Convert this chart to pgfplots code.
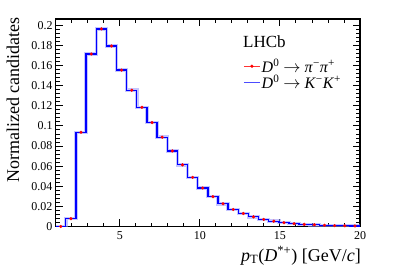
\documentclass[border=0pt]{standalone}
\usepackage{pgfplots}
\pgfplotsset{compat=1.18}
\usepackage{fontspec}
\setmainfont{Liberation Serif}
\definecolor{band}{RGB}{150,150,255}
\pgfplotstableread{
x y
1.0000 0
1.6333 0.0078
2.2667 0.0937
2.9000 0.1715
3.5333 0.1965
4.1667 0.1795
4.8000 0.1555
5.4333 0.1355
6.0667 0.1185
6.7000 0.1033
7.3333 0.0888
7.9667 0.0751
8.6000 0.0613
9.2333 0.0488
9.8667 0.0383
10.5000 0.0296
11.1333 0.0226
11.7667 0.0169
12.4000 0.0129
13.0333 0.0096
13.6667 0.0070
14.3000 0.0053
14.9333 0.0038
15.5667 0.0028
16.2000 0.0021
16.8333 0.0017
17.4667 0.0012
18.1000 0.0009
18.7333 0.0007
19.3667 0.0005
20.0000 0.0005
}\histo
\pgfplotstableread{
x y
1.3167 0
1.9500 0.0078
2.5833 0.0937
3.2167 0.1715
3.8500 0.1965
4.4833 0.1795
5.1167 0.1555
5.7500 0.1355
6.3833 0.1185
7.0167 0.1033
7.6500 0.0888
8.2833 0.0751
8.9167 0.0613
9.5500 0.0488
10.1833 0.0383
10.8167 0.0296
11.4500 0.0226
12.0833 0.0169
12.7167 0.0129
13.3500 0.0096
13.9833 0.0070
14.6167 0.0053
15.2500 0.0038
15.8833 0.0028
16.5167 0.0021
17.1500 0.0017
17.7833 0.0012
18.4167 0.0009
19.0500 0.0007
19.6833 0.0005
}\points
\begin{document}
\begin{tikzpicture}[x=1pt,y=1pt]
\useasboundingbox (0,0) rectangle (399,270);
\begin{axis}[
  at={(55.7pt,43.5pt)}, anchor=south west,
  scale only axis, width=304.3pt, height=207.5pt,
  xmin=1, xmax=20, ymin=0, ymax=0.2063,
  axis line style={line width=1.1pt},
  every tick/.style={black, line width=0.9pt},
  tick align=inside, tick pos=both,
  xticklabel pos=lower, yticklabel pos=left,
  major tick length=7.5pt, minor tick length=3.8pt,
  xtick={5,10,15,20},
  minor xtick={1,2,3,4,6,7,8,9,11,12,13,14,16,17,18,19},
  ytick={0,0.02,0.04,0.06,0.08,0.1,0.12,0.14,0.16,0.18,0.2},
  yticklabels={0,0.02,0.04,0.06,0.08,0.1,0.12,0.14,0.16,0.18,0.2},
  minor ytick={0.004,0.008,...,0.2},
  scaled y ticks=false,
  /pgf/number format/assume math mode=true,
  ticklabel style={font=\fontsize{12}{12}\selectfont},
  yticklabel style={inner sep=0pt, xshift=-3pt},
  xticklabel style={inner sep=0pt, yshift=-5pt},
  xlabel={\textit{p}\textsubscript{T}(\textit{D}\textsuperscript{*+}) [GeV/\textit{c}]},
  xlabel style={at={(axis description cs:1,0)}, anchor=north east, inner sep=0pt, yshift=-20pt, xshift=1pt, font=\fontsize{18}{20}\selectfont},
  ylabel={Normalized candidates},
  ylabel style={at={(axis description cs:-0.119,1.008)}, anchor=south east, inner sep=0pt, font=\fontsize{18}{20}\selectfont},
  legend cell align=left,
  legend style={at={(axis description cs:0.6155,0.815)}, anchor=north west, draw=none, fill=none,
    font=\fontsize{16}{17}\selectfont, row sep=-1pt, inner sep=0pt,
    nodes={inner sep=1pt}},
]
\addplot[const plot, band, line width=3.5pt, opacity=0.55, forget plot] table {\histo};
\addplot[const plot, blue, line width=1.3pt, forget plot] table {\histo};
\addplot[only marks, mark=*, red, mark size=1.4pt, forget plot] table {\points};
\addlegendimage{legend image code/.code={\draw[red!80, line width=1.2pt] (0pt,0pt) -- (16pt,0pt); \fill[red] (8pt,0pt) circle (1.4pt);}}
\addlegendentry{\textit{D}\textsuperscript{0} $\rightarrow$ \textit{π}\textsuperscript{−}\textit{π}\textsuperscript{+}}
\addlegendimage{legend image code/.code={\draw[blue!70, line width=1.5pt] (0pt,0pt) -- (16pt,0pt);}}
\addlegendentry{\textit{D}\textsuperscript{0} $\rightarrow$ \textit{K}\textsuperscript{−}\textit{K}\textsuperscript{+}}
\node[anchor=west, inner sep=0pt, font=\fontsize{17}{18}\selectfont] at (axis description cs:0.6155,0.8906) {LHCb};
\end{axis}
\end{tikzpicture}
\end{document}
